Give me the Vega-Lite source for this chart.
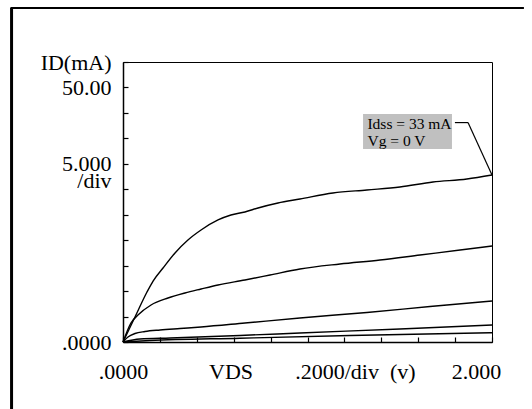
{
  "$schema": "https://vega.github.io/schema/vega-lite/v6.json",
  "width": 369,
  "height": 280,
  "autosize": {"type": "none"},
  "padding": {"left": 123, "top": 62, "right": 40, "bottom": 67},
  "background": "white",
  "config": {
    "view": {"stroke": "black", "strokeWidth": 1},
    "font": "Liberation Serif",
    "axis": {"labelFont": "Liberation Serif", "labelFontSize": 22, "labelColor": "black", "labelOverlap": false, "labelFlush": false, "labelBound": false, "grid": false, "title": null}
  },
  "resolve": {"axis": {"x": "independent", "y": "independent"}},
  "datasets": {
    "curves": [
      {"curve": "c1", "vds": 0, "id": 0},
      {"curve": "c1", "vds": 0.065, "id": 4.91},
      {"curve": "c1", "vds": 0.13, "id": 9.82},
      {"curve": "c1", "vds": 0.163, "id": 11.98},
      {"curve": "c1", "vds": 0.217, "id": 14.54},
      {"curve": "c1", "vds": 0.282, "id": 17.49},
      {"curve": "c1", "vds": 0.352, "id": 20.04},
      {"curve": "c1", "vds": 0.423, "id": 22.0},
      {"curve": "c1", "vds": 0.515, "id": 23.97},
      {"curve": "c1", "vds": 0.585, "id": 24.95},
      {"curve": "c1", "vds": 0.661, "id": 25.54},
      {"curve": "c1", "vds": 0.732, "id": 26.33},
      {"curve": "c1", "vds": 0.84, "id": 27.31},
      {"curve": "c1", "vds": 0.959, "id": 28.09},
      {"curve": "c1", "vds": 1.138, "id": 29.27},
      {"curve": "c1", "vds": 1.322, "id": 29.86},
      {"curve": "c1", "vds": 1.501, "id": 30.45},
      {"curve": "c1", "vds": 1.68, "id": 31.43},
      {"curve": "c1", "vds": 1.864, "id": 32.02},
      {"curve": "c1", "vds": 2.0, "id": 32.81},
      {"curve": "c2", "vds": 0, "id": 0},
      {"curve": "c2", "vds": 0.043, "id": 3.73},
      {"curve": "c2", "vds": 0.081, "id": 5.3},
      {"curve": "c2", "vds": 0.152, "id": 7.27},
      {"curve": "c2", "vds": 0.244, "id": 8.64},
      {"curve": "c2", "vds": 0.336, "id": 9.63},
      {"curve": "c2", "vds": 0.423, "id": 10.41},
      {"curve": "c2", "vds": 0.515, "id": 11.2},
      {"curve": "c2", "vds": 0.661, "id": 12.18},
      {"curve": "c2", "vds": 0.797, "id": 13.16},
      {"curve": "c2", "vds": 0.959, "id": 14.34},
      {"curve": "c2", "vds": 1.176, "id": 15.32},
      {"curve": "c2", "vds": 1.393, "id": 16.11},
      {"curve": "c2", "vds": 1.61, "id": 17.09},
      {"curve": "c2", "vds": 1.827, "id": 18.07},
      {"curve": "c2", "vds": 2.0, "id": 18.86},
      {"curve": "c3", "vds": 0, "id": 0},
      {"curve": "c3", "vds": 0.027, "id": 0.98},
      {"curve": "c3", "vds": 0.065, "id": 1.67},
      {"curve": "c3", "vds": 0.119, "id": 2.06},
      {"curve": "c3", "vds": 0.201, "id": 2.36},
      {"curve": "c3", "vds": 0.309, "id": 2.65},
      {"curve": "c3", "vds": 0.423, "id": 2.95},
      {"curve": "c3", "vds": 0.661, "id": 3.73},
      {"curve": "c3", "vds": 0.959, "id": 4.72},
      {"curve": "c3", "vds": 1.322, "id": 5.8},
      {"curve": "c3", "vds": 1.664, "id": 6.97},
      {"curve": "c3", "vds": 2.0, "id": 8.06},
      {"curve": "c4", "vds": 0, "id": 0},
      {"curve": "c4", "vds": 0.092, "id": 0.59},
      {"curve": "c4", "vds": 0.255, "id": 0.79},
      {"curve": "c4", "vds": 0.634, "id": 1.28},
      {"curve": "c4", "vds": 0.959, "id": 1.77},
      {"curve": "c4", "vds": 1.501, "id": 2.55},
      {"curve": "c4", "vds": 2.0, "id": 3.34},
      {"curve": "c5", "vds": 0, "id": 0},
      {"curve": "c5", "vds": 0.146, "id": 0.29},
      {"curve": "c5", "vds": 0.634, "id": 0.75},
      {"curve": "c5", "vds": 1.23, "id": 1.28},
      {"curve": "c5", "vds": 2.0, "id": 1.83}
    ]
  },
  "layer": [
    {
      "data": {"name": "curves"},
      "mark": {"type": "line", "color": "black", "strokeWidth": 1.4, "interpolate": "monotone"},
      "encoding": {
        "detail": {"field": "curve", "type": "nominal"},
        "x": {
          "field": "vds",
          "type": "quantitative",
          "scale": {"domain": [0, 2], "nice": false, "zero": false},
          "axis": {
            "orient": "bottom",
            "values": [0, 0.2, 0.4, 0.6, 0.8, 1.0, 1.2, 1.4, 1.6, 1.8, 2.0],
            "domainColor": "black",
            "domainWidth": 1.5,
            "tickColor": "black",
            "tickSize": -5,
            "tickWidth": 1.2,
            "labels": false
          }
        },
        "y": {
          "field": "id",
          "type": "quantitative",
          "scale": {"domain": [0, 55], "nice": false, "zero": false},
          "axis": {
            "orient": "left",
            "values": [0, 5, 10, 15, 20, 25, 30, 35, 40, 45, 50, 55],
            "domainColor": "black",
            "domainWidth": 1.5,
            "tickColor": "black",
            "tickSize": -5,
            "tickWidth": 1.2,
            "labels": false
          }
        }
      }
    },
    {
      "data": {"values": [{}]},
      "mark": {"type": "rect", "color": "#c0c0c0"},
      "encoding": {
        "x": {
          "datum": 1.301,
          "type": "quantitative",
          "axis": {
            "orient": "bottom",
            "values": [0, 0.583, 1.257, 1.913],
            "domain": false,
            "ticks": false,
            "labelPadding": 19,
            "labelExpr": "datum.value==0?'.0000':datum.value==0.583?'VDS':datum.value==1.257?'.2000/div\u00a0\u00a0(v)':'2.000'"
          }
        },
        "x2": {"datum": 1.783},
        "y": {
          "datum": 44.8,
          "type": "quantitative",
          "axis": {
            "orient": "left",
            "values": [0, 31.8, 35, 50, 55],
            "domain": false,
            "ticks": false,
            "labelPadding": 12,
            "labelExpr": "datum.value==0?'.0000':datum.value==31.8?'/div':datum.value==35?'5.000':datum.value==50?'50.00':'ID(mA)'"
          }
        },
        "y2": {"datum": 37.9}
      }
    },
    {
      "data": {"values": [{}]},
      "mark": {"type": "text", "text": ["Idss = 33 mA", "Vg = 0 V"], "align": "left", "baseline": "middle", "font": "Liberation Serif", "fontSize": 15.5, "lineHeight": 17, "color": "black"},
      "encoding": {
        "x": {"datum": 1.325, "type": "quantitative", "axis": null},
        "y": {"datum": 42.8, "type": "quantitative", "axis": null}
      }
    },
    {
      "data": {"values": [{}]},
      "mark": {"type": "rule", "color": "black", "strokeWidth": 1.2},
      "encoding": {
        "x": {"datum": 1.799, "type": "quantitative", "axis": null},
        "x2": {"datum": 1.87},
        "y": {"datum": 43.1, "type": "quantitative", "axis": null},
        "y2": {"datum": 43.1}
      }
    },
    {
      "data": {"values": [{}]},
      "mark": {"type": "rule", "color": "black", "strokeWidth": 1.2},
      "encoding": {
        "x": {"datum": 1.87, "type": "quantitative", "axis": null},
        "x2": {"datum": 2.0},
        "y": {"datum": 43.1, "type": "quantitative", "axis": null},
        "y2": {"datum": 32.8}
      }
    },
    {
      "data": {"values": [{}]},
      "mark": {"type": "rule", "color": "black", "strokeWidth": 3},
      "encoding": {
        "x": {"datum": -0.604, "type": "quantitative", "axis": null},
        "y": {"datum": 65.6, "type": "quantitative", "axis": null},
        "y2": {"datum": -14}
      }
    },
    {
      "data": {"values": [{}]},
      "mark": {"type": "rule", "color": "black", "strokeWidth": 2},
      "encoding": {
        "x": {"datum": -0.61, "type": "quantitative", "axis": null},
        "x2": {"datum": 2.173},
        "y": {"datum": 65.6, "type": "quantitative", "axis": null}
      }
    }
  ]
}
